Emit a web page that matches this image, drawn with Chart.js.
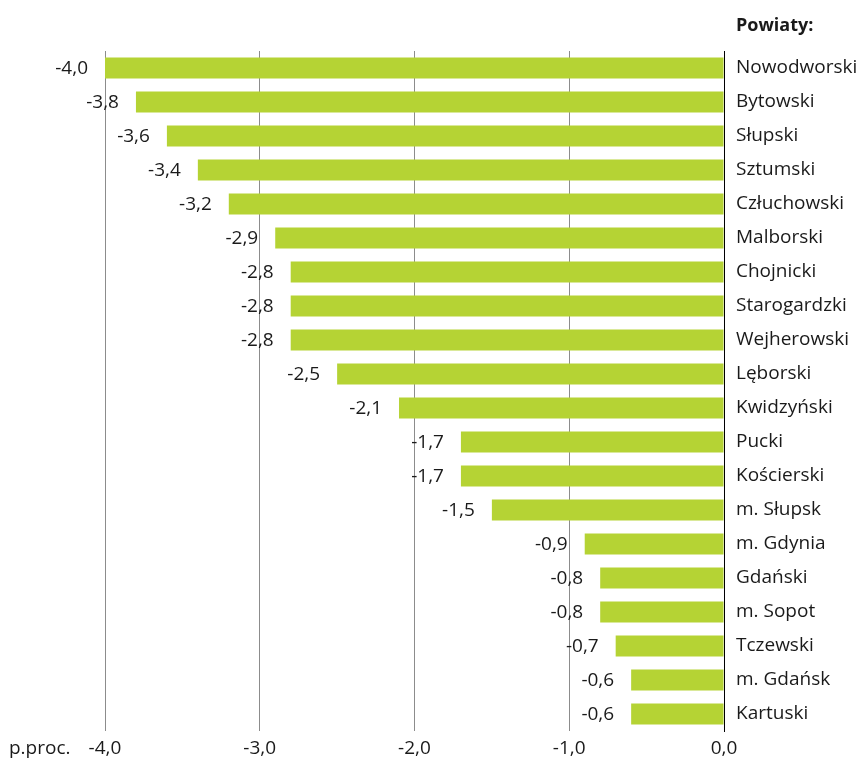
<!DOCTYPE html>
<html>
<head>
<meta charset="utf-8">
<script src="https://cdn.jsdelivr.net/npm/chart.js@4.4.1/dist/chart.umd.min.js"></script>
<style>
  html, body { margin: 0; padding: 0; background: #fff; }
  #wrap { width: 866px; height: 765px; position: relative; }
</style>
</head>
<body>
<div id="wrap"><canvas id="c"></canvas></div>
<script>
const categories = ["Nowodworski","Bytowski","Słupski","Sztumski","Człuchowski","Malborski","Chojnicki","Starogardzki","Wejherowski","Lęborski","Kwidzyński","Pucki","Kościerski","m. Słupsk","m. Gdynia","Gdański","m. Sopot","Tczewski","m. Gdańsk","Kartuski"];
const values = [-4.0,-3.8,-3.6,-3.4,-3.2,-2.9,-2.8,-2.8,-2.8,-2.5,-2.1,-1.7,-1.7,-1.5,-0.9,-0.8,-0.8,-0.7,-0.6,-0.6];
const xTicks = [-4,-3,-2,-1,0];
const unitLabel = "p.proc.";
const legendTitle = "Powiaty:";

const FONT = "'Open Sans', 'Noto Sans', sans-serif";
const SIZE = 19;
const fmt = v => v.toFixed(1).replace('.', ',');

const labelPlugin = {
  id: 'labels',
  afterDatasetsDraw(chart) {
    const ctx = chart.ctx;
    const meta = chart.getDatasetMeta(0);
    ctx.save();
    ctx.font = SIZE + "px " + FONT;
    ctx.fillStyle = "#1a1a1a";
    ctx.textAlign = "right";
    ctx.textBaseline = "middle";
    meta.data.forEach((bar, i) => {
      ctx.fillText(fmt(values[i]), bar.x - 17, bar.y + 1);
    });
    ctx.textAlign = "left";
    ctx.fillText(unitLabel, 9, 749);
    ctx.font = "bold 18px " + FONT;
    ctx.fillText(legendTitle, chart.chartArea.right + 12, 26);
    ctx.restore();
  }
};

new Chart(document.getElementById('c'), {
  type: 'bar',
  data: {
    labels: categories,
    datasets: [{
      data: values,
      backgroundColor: '#b5d334',
      borderWidth: 0,
      barPercentage: 0.62,
      categoryPercentage: 1.0
    }]
  },
  options: {
    indexAxis: 'y',
    responsive: true,
    maintainAspectRatio: false,
    animation: false,
    layout: { padding: { left: 105, top: 51, right: 0, bottom: 0 } },
    plugins: { legend: { display: false }, tooltip: { enabled: false } },
    scales: {
      x: {
        min: -4, max: 0,
        afterBuildTicks(s) { s.ticks = xTicks.map(v => ({ value: v })); },
        afterFit(s) { s.height = 34; },
        ticks: {
          font: { family: FONT, size: SIZE },
          color: '#1a1a1a',
          padding: 6,
          maxRotation: 0,
          callback: v => fmt(v)
        },
        grid: {
          drawTicks: false,
          color: ctx => (ctx.tick && ctx.tick.value === 0) ? '#000' : '#8c8c8c',
          lineWidth: 1
        },
        border: { display: false }
      },
      y: {
        position: 'right',
        afterFit(s) { s.width = 142; },
        ticks: {
          font: { family: FONT, size: SIZE },
          color: '#1a1a1a',
          padding: 12
        },
        grid: { display: false, drawTicks: false },
        border: { display: true, color: '#000', width: 1 }
      }
    }
  },
  plugins: [labelPlugin]
});
</script>
</body>
</html>
